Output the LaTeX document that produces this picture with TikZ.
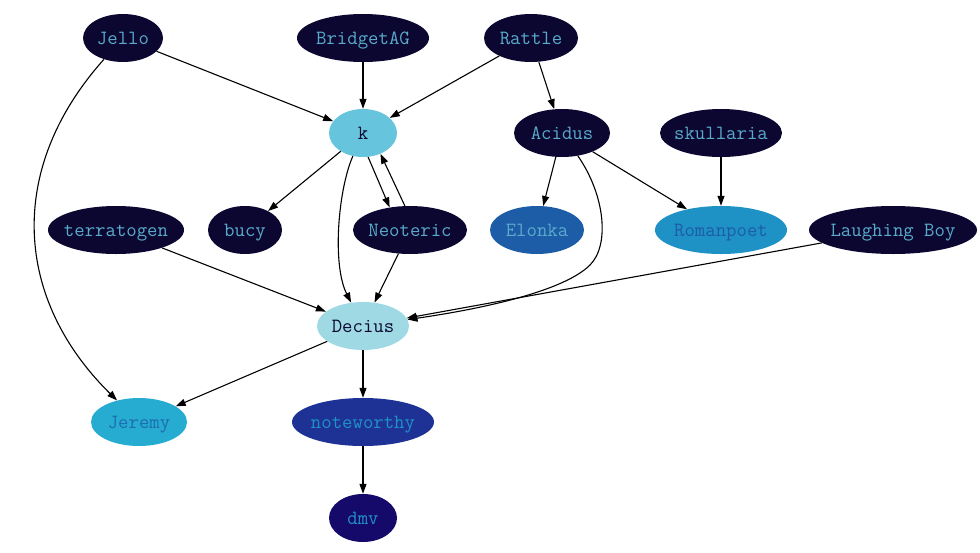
\documentclass[tikz,border=0pt]{standalone}
\usepackage{fontspec}
\usetikzlibrary{arrows.meta,shapes.geometric}
\definecolor{inkdark}{HTML}{0B0731}
\definecolor{inktext}{HTML}{5AABCB}
\definecolor{skyfill}{HTML}{66C5DC}
\definecolor{palefill}{HTML}{9ED9E4}
\definecolor{midblue}{HTML}{1D5CA6}
\definecolor{ceruleanfill}{HTML}{1E92C4}
\definecolor{cyanfill}{HTML}{26ACD0}
\definecolor{cyantext}{HTML}{1D6DB0}
\definecolor{royalfill}{HTML}{1E3296}
\definecolor{violetfill}{HTML}{150A6A}
\tikzset{user/.style={ellipse, inner xsep=-8pt, inner ysep=0pt, text height=13pt, text depth=0pt, minimum height=48pt, font=\ttfamily\fontsize{20.2}{22}\selectfont}, dark/.style={user, fill=inkdark, text=inktext}, edge/.style={-{Triangle[length=10pt,width=7pt]}, line width=1.1pt, color=black}}

\begin{document}
\begin{tikzpicture}[x=1pt,y=-1pt]
\useasboundingbox (0,0) rectangle (980,552);
% top row
\node[dark, minimum width=80pt] (jello) at (123,38) {Jello};
\node[dark, minimum width=132pt] (bridget) at (363,38) {BridgetAG};
\node[dark, minimum width=94pt] (rattle) at (531,38) {Rattle};
% second row
\node[user, fill=skyfill, text=inkdark, minimum width=68pt] (k) at (363,133) {k};
\node[dark, minimum width=96pt] (acidus) at (562,133) {Acidus};
\node[dark, minimum width=122pt] (skullaria) at (721,133) {skullaria};
% third row
\node[dark, minimum width=136pt] (terratogen) at (116,230) {terratogen};
\node[dark, minimum width=74pt] (bucy) at (245,230) {bucy};
\node[dark, minimum width=114pt] (neoteric) at (410,230) {Neoteric};
\node[user, fill=midblue, text=inktext, minimum width=94pt] (elonka) at (537,230) {Elonka};
\node[user, fill=ceruleanfill, text=midblue, minimum width=132pt] (romanpoet) at (721,230) {Romanpoet};
\node[dark, minimum width=168pt] (laughing) at (893,230) {Laughing Boy};
% lower rows
\node[user, fill=palefill, text=inkdark, minimum width=92pt] (decius) at (363,326) {Decius};
\node[user, fill=cyanfill, text=cyantext, minimum width=96pt] (jeremy) at (139,422) {Jeremy};
\node[user, fill=royalfill, text=ceruleanfill, minimum width=142pt] (noteworthy) at (363,422) {noteworthy};
\node[user, fill=violetfill, text=ceruleanfill, minimum width=68pt] (dmv) at (363,518) {dmv};
% edges
\draw[edge] (jello) -- (k);
\draw[edge] (jello) .. controls (5,170) and (15,300) .. (jeremy);
\draw[edge] (bridget) -- (k);
\draw[edge] (rattle) -- (k);
\draw[edge] (rattle) -- (acidus);
\draw[edge] (k) -- (bucy);
\draw[edge] (k) .. controls (338,190) and (332,265) .. (decius);
\draw[edge] (k.-78) -- (neoteric.132);
\draw[edge] (neoteric.102) -- (k.-50);
\draw[edge] (acidus) -- (elonka);
\draw[edge] (acidus) -- (romanpoet);
\draw[edge] (acidus) .. controls (605,195) and (610,245) .. (590,265) .. controls (560,295) and (460,312) .. (decius);
\draw[edge] (skullaria) -- (romanpoet);
\draw[edge] (terratogen) -- (decius);
\draw[edge] (neoteric) -- (decius);
\draw[edge] (laughing) -- (decius);
\draw[edge] (decius) -- (jeremy);
\draw[edge] (decius) -- (noteworthy);
\draw[edge] (noteworthy) -- (dmv);
\end{tikzpicture}
\end{document}
